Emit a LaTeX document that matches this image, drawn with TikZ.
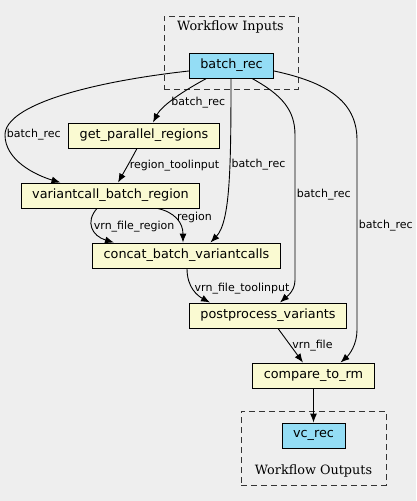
\documentclass[tikz,border=0pt]{standalone}
\usepackage{fontspec}
\setmainfont{DejaVu Serif}
\setsansfont{DejaVu Sans}
\usetikzlibrary{arrows.meta}
\definecolor{bggray}{HTML}{EEEEEE}
\definecolor{inblue}{HTML}{94DDF5}
\definecolor{stepyellow}{HTML}{FAFAD2}
\begin{document}
\begin{tikzpicture}[x=1pt,y=-1pt]
	\tikzstyle{tool} = [rectangle,draw=black,line width=0.9pt,fill=stepyellow,minimum height=25pt,inner xsep=11pt,font=\sffamily\fontsize{12.8}{14}\selectfont]
	\tikzstyle{io} = [tool,fill=inblue]
	\tikzstyle{cluster} = [rectangle,draw=black!80,line width=0.9pt,dash pattern=on 6pt off 4pt]
	\tikzstyle{flow} = [->,>={Latex[length=9pt,width=7pt]},line width=0.9pt]
	\tikzstyle{lbl} = [font=\sffamily\fontsize{11}{12}\selectfont,inner sep=1.5pt]
	\useasboundingbox[fill=bggray] (0,0) rectangle (416,501);
	% workflow inputs
	\node[cluster,minimum width=134pt,minimum height=73pt] (inputs) at (231,52.5) {};
	\node[font=\fontsize{12.8}{14}\selectfont] (inlabel) at (230.5,27) {Workflow Inputs};
	\node[io] (batch) at (231.5,65.5) {batch\_rec};
	% steps
	\node[tool] (gpr) at (144,135.5) {get\_parallel\_regions};
	\node[tool] (vbr) at (110.5,195.5) {variantcall\_batch\_region};
	\node[tool] (concat) at (186.5,255.5) {concat\_batch\_variantcalls};
	\node[tool] (post) at (268,315.5) {postprocess\_variants};
	\node[tool] (compare) at (313.5,375.5) {compare\_to\_rm};
	% workflow outputs
	\node[cluster,minimum width=145pt,minimum height=74pt] (outputs) at (313.5,448) {};
	\node[font=\fontsize{12.8}{14}\selectfont] (outlabel) at (313.5,471) {Workflow Outputs};
	\node[io] (vcrec) at (313.5,435.5) {vc\_rec};
	% batch_rec connections
	\draw[flow] ([xshift=-25pt]batch.south) .. controls (185,90) and (162,105) .. node[lbl,right,pos=0.6] {batch\_rec} ([xshift=9pt]gpr.north);
	\draw[flow] ([yshift=-5.5pt]batch.west) .. controls (90,82) and (5,105) .. (5,135) node[lbl,right] {batch\_rec} .. controls (5,160) and (35,175) .. ([xshift=-50pt]vbr.north);
	\draw[flow] ([xshift=-0.5pt]batch.south) .. controls (231,170) and (230,222) .. node[lbl,right,pos=0.37] {batch\_rec} ([xshift=24pt]concat.north);
	\draw[flow] ([xshift=20.5pt]batch.south) .. controls (282,95) and (295,110) .. (295,135) -- node[lbl,right,pos=0.41] {batch\_rec} (295,280) .. controls (295,292) and (285,298) .. ([xshift=12pt]post.north);
	\draw[flow] ([yshift=-5.5pt]batch.east) .. controls (325,82) and (357,100) .. (357,140) -- node[lbl,right,pos=0.45] {batch\_rec} (357,330) .. controls (357,345) and (349,355) .. ([xshift=27pt]compare.north);
	% step connections
	\draw[flow] ([xshift=-7pt]gpr.south) .. controls (132,158) and (124,172) .. node[lbl,right] {region\_toolinput} ([xshift=7.5pt]vbr.north);
	\draw[flow] ([xshift=-13.5pt]vbr.south) .. controls (85,222) and (92,236) .. node[lbl,right,pos=0.45] {vrn\_file\_region} ([xshift=-72.5pt]concat.north);
	\draw[flow] ([xshift=47pt]vbr.south) .. controls (174,212) and (183,222) .. node[lbl,right,pos=0.45] {region} ([xshift=-3.5pt]concat.north);
	\draw[flow] ([xshift=0.5pt]concat.south) .. controls (187,288) and (198,296) .. node[lbl,right,pos=0.45] {vrn\_file\_toolinput} ([xshift=-58pt]post.north);
	\draw[flow] ([xshift=10pt]post.south) -- node[lbl,right] {vrn\_file} ([xshift=-10.5pt]compare.north);
	\draw[flow] (compare) -- (vcrec);
\end{tikzpicture}
\end{document}
